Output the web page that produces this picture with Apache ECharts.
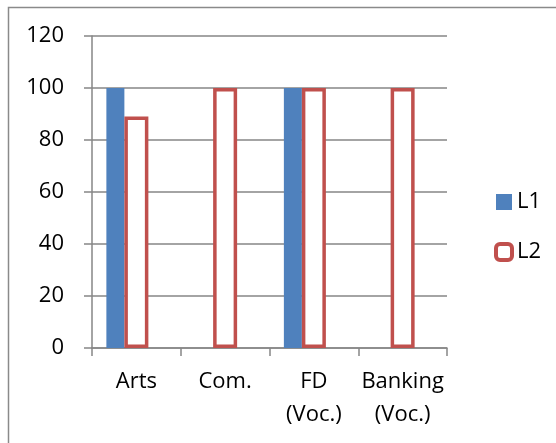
<!DOCTYPE html>
<html>
<head>
<meta charset="utf-8">
<script src="https://cdn.jsdelivr.net/npm/echarts@6/dist/echarts.min.js"></script>
<style>
  html, body { margin: 0; padding: 0; background: #fff; }
  #chart { width: 556px; height: 443px; }
</style>
</head>
<body>
<div id="chart"></div>
<script>
const categories = ["Arts", "Com.", "FD\n(Voc.)", "Banking\n(Voc.)"];
const l1Values = [100, 0, 100, 0];
const l2Values = [89, 100, 100, 100];
const yTicks = { min: 0, max: 120, interval: 20 };

const chart = echarts.init(document.getElementById("chart"));
const font = "'Open Sans', sans-serif";
const grey = "#868686";

chart.setOption({
  animation: false,
  textStyle: { fontFamily: font },
  // frame round the chart area
  graphic: [
    {
      type: "rect",
      shape: { x: 8.5, y: 7.5, width: 600, height: 500 },
      style: { fill: "none", stroke: "#8a8a8a", lineWidth: 1.5 },
      silent: true,
    },
  ],
  grid: { left: 92, top: 36, right: 109, bottom: 95 },
  legend: {
    orient: "vertical",
    left: 489,
    top: 185,
    itemWidth: 16,
    itemHeight: 16,
    itemGap: 26,
    data: [
      { name: "L1", icon: "rect" },
      { name: "L2", icon: "roundRect", itemStyle: { borderWidth: 4 } },
    ],
    textStyle: { fontSize: 22, lineHeight: 24, color: "#000", fontFamily: font },
  },
  xAxis: {
    type: "category",
    data: categories,
    axisLine: { lineStyle: { color: grey, width: 1.5 } },
    axisTick: { show: true, length: 8, lineStyle: { color: grey, width: 1.5 } },
    axisLabel: {
      color: "#000",
      fontSize: 22,
      lineHeight: 33,
      margin: 17,
      interval: 0,
      fontFamily: font,
    },
  },
  yAxis: {
    type: "value",
    min: yTicks.min,
    max: yTicks.max,
    interval: yTicks.interval,
    axisLine: { show: true, lineStyle: { color: grey, width: 1.5 } },
    axisTick: { show: true, length: 8, lineStyle: { color: grey, width: 1.5 } },
    axisLabel: { color: "#000", fontSize: 22, margin: 28, fontFamily: font },
    splitLine: { lineStyle: { color: grey, width: 1.5 } },
  },
  series: [
    {
      name: "L1",
      type: "bar",
      data: l1Values,
      barWidth: 18,
      barGap: "0%",
      itemStyle: { color: "#4F81BD" },
    },
    {
      name: "L2",
      type: "bar",
      data: l2Values,
      barWidth: 24,
      barGap: "0%",
      itemStyle: { color: "#fff", borderColor: "#C0504D", borderWidth: 3.5 },
    },
    {
      // empty third slot, keeps the groups placed as in the original
      name: "",
      type: "bar",
      data: [],
      barWidth: 18,
      barGap: "0%",
    },
  ],
});
</script>
</body>
</html>
